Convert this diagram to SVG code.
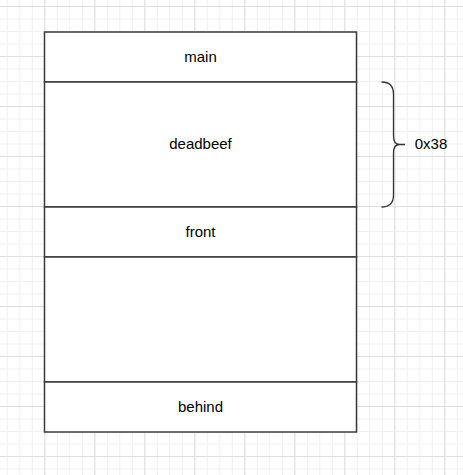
<svg xmlns="http://www.w3.org/2000/svg" width="463" height="475" viewBox="0 0 463 475">
  <defs>
    <pattern id="minor" x="44.3" y="6" width="12.5" height="12.5" patternUnits="userSpaceOnUse">
      <path d="M0,0.5 H12.5 M0.5,0 V12.5" fill="none" stroke="#f0f0f0" stroke-width="1"/>
    </pattern>
    <pattern id="major" x="44.3" y="6" width="50" height="50" patternUnits="userSpaceOnUse">
      <path d="M0,0.5 H50 M0.5,0 V50" fill="none" stroke="#dedede" stroke-width="1"/>
    </pattern>
  </defs>
  <style>
    .cell { fill: #ffffff; stroke: #3a3a3a; stroke-width: 1.5; }
    .lbl { font-family: "Liberation Sans", Arial, sans-serif; font-size: 15px; fill: #000000; text-anchor: middle; dominant-baseline: central; }
    .brace { fill: none; stroke: #333333; stroke-width: 1.3; }
  </style>
  <rect width="463" height="475" fill="#ffffff"/>
  <rect width="463" height="475" fill="url(#minor)"/>
  <rect width="463" height="475" fill="url(#major)"/>

  <g id="main">
    <rect class="cell" x="44.5" y="32" width="312" height="50"/>
    <text class="lbl" x="200.5" y="56">main</text>
  </g>
  <g id="deadbeef">
    <rect class="cell" x="44.5" y="82" width="312" height="125"/>
    <text class="lbl" x="200.5" y="143.5">deadbeef</text>
  </g>
  <g id="front">
    <rect class="cell" x="44.5" y="207" width="312" height="50"/>
    <text class="lbl" x="200.5" y="231">front</text>
  </g>
  <g id="empty">
    <rect class="cell" x="44.5" y="257" width="312" height="125"/>
  </g>
  <g id="behind">
    <rect class="cell" x="44.5" y="382" width="312" height="50"/>
    <text class="lbl" x="200.5" y="406">behind</text>
  </g>

  <g id="connectors">
    <path class="brace" d="M381.5,82 Q393.5,82 393.5,94 L393.5,136 Q393.5,144.5 399.5,144.5 L405,144.5 M399.5,144.5 Q393.5,144.5 393.5,153 L393.5,195 Q393.5,207 381.5,207"/>
  </g>
  <g id="size-label">
    <text class="lbl" x="431" y="143.5">0x38</text>
  </g>
</svg>
